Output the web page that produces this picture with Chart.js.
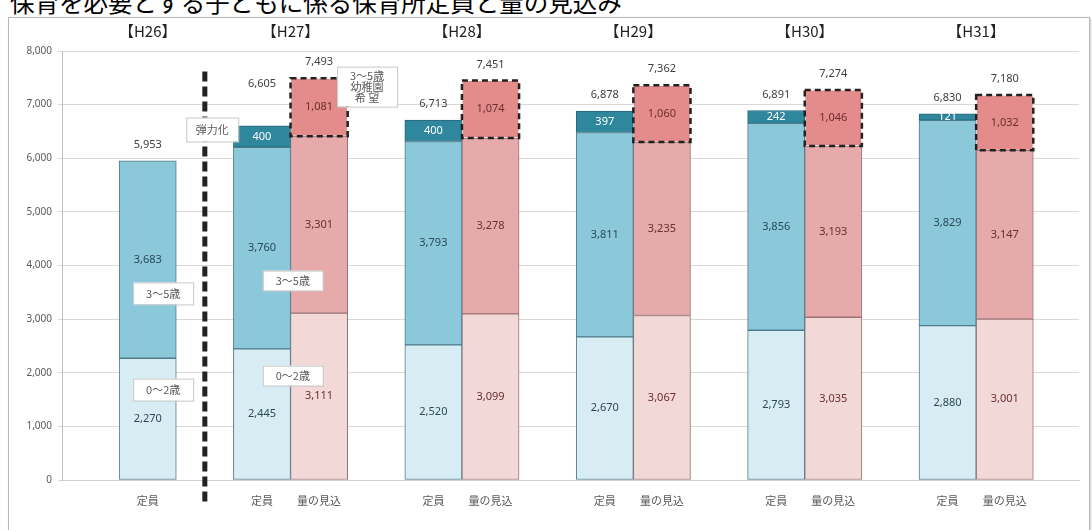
<!DOCTYPE html>
<html>
<head>
<meta charset="utf-8">
<script src="https://cdn.jsdelivr.net/npm/chart.js@4.4.1/dist/chart.umd.min.js"></script>
<style>
  body { margin: 0; width: 1092px; height: 530px; overflow: hidden; position: relative; background: #fff; font-family: "Noto Sans CJK JP", sans-serif; }
  #title { position: absolute; left: 10px; top: -11px; font-size: 24.5px; line-height: 26px; color: #000; white-space: nowrap; }
  #box { position: absolute; left: 8px; top: 17px; width: 1080px; height: 520px; border: 1px solid #b8b8b8; box-shadow: 1px 1px 2px #ccc; }
  #chart { position: absolute; left: 0; top: 0; }
</style>
</head>
<body>
<div id="title">保育を必要とする子どもに係る保育所定員と量の見込み</div>
<div id="box"><canvas id="chart" width="1080" height="512"></canvas></div>
<script>
// year groups
const groups = ['【H26】', '【H27】', '【H28】', '【H29】', '【H30】', '【H31】'];

// 定員 (capacity) H26..H31
const cap02 = [2270, 2445, 2520, 2670, 2793, 2880];
const cap35 = [3683, 3760, 3793, 3811, 3856, 3829];
const capFlex = [null, 400, 400, 397, 242, 121]; // 弾力化

// 量の見込 (expected demand) H27..H31
const need02 = [3111, 3099, 3067, 3035, 3001];
const need35 = [3301, 3278, 3235, 3193, 3147];
const needKinder = [1081, 1074, 1060, 1046, 1032]; // 3～5歳 幼稚園希望

const yTicks = [0, 1000, 2000, 3000, 4000, 5000, 6000, 7000, 8000];

// slot positions on the x scale: H26 has one bar, later years two bars side by side
const capSlot = i => (i === 0 ? 0 : 3 * i - 1);
const needSlot = i => 3 * (i + 1);

const capPts = arr => arr.map((v, i) => ({ x: capSlot(i), y: v })).filter(p => p.y !== null);
const needPts = arr => arr.map((v, i) => ({ x: needSlot(i), y: v }));

const slotLabels = {};
groups.forEach((g, i) => { slotLabels[capSlot(i)] = '定員'; });
need02.forEach((v, i) => { slotLabels[needSlot(i)] = '量の見込'; });

// text boxes placed in data coordinates
const notes = [
  { x: 1.13, y: 6535, w: 52, h: 24, lines: ['弾力化'] },
  { x: 3.84, y: 7336, w: 60, h: 40, lines: ['3～5歳', '幼稚園', '希 望'] },
  { x: 0.27, y: 3479, w: 60, h: 22, lines: ['3～5歳'] },
  { x: 0.27, y: 1685, w: 60, h: 22, lines: ['0～2歳'] },
  { x: 2.54, y: 3718, w: 60, h: 20, lines: ['3～5歳'] },
  { x: 2.54, y: 1946, w: 60, h: 20, lines: ['0～2歳'] }
];

const fmt = v => v.toLocaleString('en-US');
const numFont = '11px "Noto Sans", sans-serif';
const jpFont = '"Noto Sans CJK JP", sans-serif';

const decor = {
  id: 'decor',
  afterDatasetsDraw(chart) {
    const { ctx, chartArea, scales: { x, y } } = chart;
    ctx.save();

    // dashed outline around kindergarten-demand segment
    chart.data.datasets.forEach((ds, di) => {
      if (!ds.dashed) return;
      chart.getDatasetMeta(di).data.forEach(bar => {
        ctx.strokeStyle = '#222';
        ctx.lineWidth = 2.5;
        ctx.setLineDash([6, 4]);
        ctx.strokeRect(bar.x - bar.width / 2, bar.y, bar.width, bar.base - bar.y);
      });
    });
    ctx.setLineDash([]);

    // values inside segments
    ctx.textAlign = 'center';
    ctx.textBaseline = 'middle';
    ctx.font = numFont;
    chart.data.datasets.forEach((ds, di) => {
      chart.getDatasetMeta(di).data.forEach((bar, j) => {
        ctx.fillStyle = ds.labelColor;
        ctx.fillText(fmt(ds.data[j].y), bar.x, (bar.y + bar.base) / 2);
      });
    });

    // totals above bars
    ctx.fillStyle = '#404040';
    groups.forEach((g, i) => {
      const t = cap02[i] + cap35[i] + (capFlex[i] || 0);
      const lift = i === 1 ? 42 : 16;
      ctx.fillText(fmt(t), x.getPixelForValue(capSlot(i)), y.getPixelForValue(t) - lift);
    });
    need02.forEach((v, i) => {
      const t = v + need35[i] + needKinder[i];
      ctx.fillText(fmt(t), x.getPixelForValue(needSlot(i)), y.getPixelForValue(t) - 16);
    });

    // divider between H26 and H27
    const dx = x.getPixelForValue(1);
    ctx.strokeStyle = '#222';
    ctx.lineWidth = 5;
    ctx.setLineDash([10, 5]);
    ctx.beginPath();
    ctx.moveTo(dx, y.getPixelForValue(7617));
    ctx.lineTo(dx, chartArea.bottom + 25);
    ctx.stroke();
    ctx.setLineDash([]);

    // annotation boxes
    notes.forEach(n => {
      const cx = x.getPixelForValue(n.x), cy = y.getPixelForValue(n.y);
      ctx.fillStyle = '#fff';
      ctx.fillRect(cx - n.w / 2, cy - n.h / 2, n.w, n.h);
      ctx.strokeStyle = '#c8c8c8';
      ctx.lineWidth = 1;
      ctx.strokeRect(cx - n.w / 2 + 0.5, cy - n.h / 2 + 0.5, n.w, n.h);
      ctx.fillStyle = '#595959';
      ctx.font = '11px ' + jpFont;
      const lh = 11;
      n.lines.forEach((l, k) => {
        ctx.fillText(l, cx, cy + (k - (n.lines.length - 1) / 2) * lh);
      });
    });

    // year headers
    ctx.fillStyle = '#222';
    ctx.font = '15px ' + jpFont;
    groups.forEach((g, i) => {
      const sx = i === 0 ? 0 : capSlot(i) + 0.5;
      ctx.fillText(g, x.getPixelForValue(sx), chartArea.top - 20);
    });

    ctx.restore();
  }
};

new Chart(document.getElementById('chart'), {
  type: 'bar',
  data: {
    datasets: [
      { label: '定員 0～2歳', data: capPts(cap02), backgroundColor: '#d8edf3', borderColor: '#4d7d8c', labelColor: '#2b4a58' },
      { label: '定員 3～5歳', data: capPts(cap35), backgroundColor: '#8bc8da', borderColor: '#4d7d8c', labelColor: '#2b4a58' },
      { label: '弾力化', data: capPts(capFlex), backgroundColor: '#2f879e', borderColor: '#2a6577', labelColor: '#ffffff' },
      { label: '量の見込 0～2歳', data: needPts(need02), backgroundColor: '#f3d8d8', borderColor: '#9a7474', labelColor: '#6b2f2f' },
      { label: '量の見込 3～5歳', data: needPts(need35), backgroundColor: '#e6aaaa', borderColor: '#9a7474', labelColor: '#6b2f2f' },
      { label: '幼稚園希望', data: needPts(needKinder), backgroundColor: '#e48c8c', borderColor: 'rgba(0,0,0,0)', labelColor: '#6b2f2f', dashed: true }
    ]
  },
  options: {
    responsive: false,
    animation: false,
    layout: { padding: { top: 33, right: 10, left: 0, bottom: 0 } },
    datasets: { bar: { categoryPercentage: 1, barPercentage: 1, borderWidth: 1, borderSkipped: false } },
    plugins: { legend: { display: false }, tooltip: { enabled: false } },
    scales: {
      x: {
        type: 'linear',
        stacked: true,
        offset: false,
        min: -1.5,
        max: 16.3,
        afterBuildTicks: axis => { axis.ticks = Object.keys(slotLabels).map(k => ({ value: +k })); },
        afterFit: s => { s.height = 50; },
        grid: { display: false, drawTicks: false, offset: false },
        border: { color: '#d0d0d0' },
        ticks: {
          autoSkip: false,
          maxRotation: 0,
          padding: 14,
          color: '#595959',
          font: { size: 11, family: jpFont },
          callback: v => slotLabels[v] || ''
        }
      },
      y: {
        stacked: true,
        min: 0,
        max: 8000,
        afterBuildTicks: axis => { axis.ticks = yTicks.map(v => ({ value: v })); },
        afterFit: s => { s.width = 53; },
        grid: { color: '#d9d9d9', tickLength: 4 },
        border: { color: '#bfbfbf' },
        ticks: {
          padding: 6,
          color: '#595959',
          font: { size: 10, family: '"Noto Sans", sans-serif' },
          callback: v => fmt(v)
        }
      }
    }
  },
  plugins: [decor]
});
</script>
</body>
</html>
